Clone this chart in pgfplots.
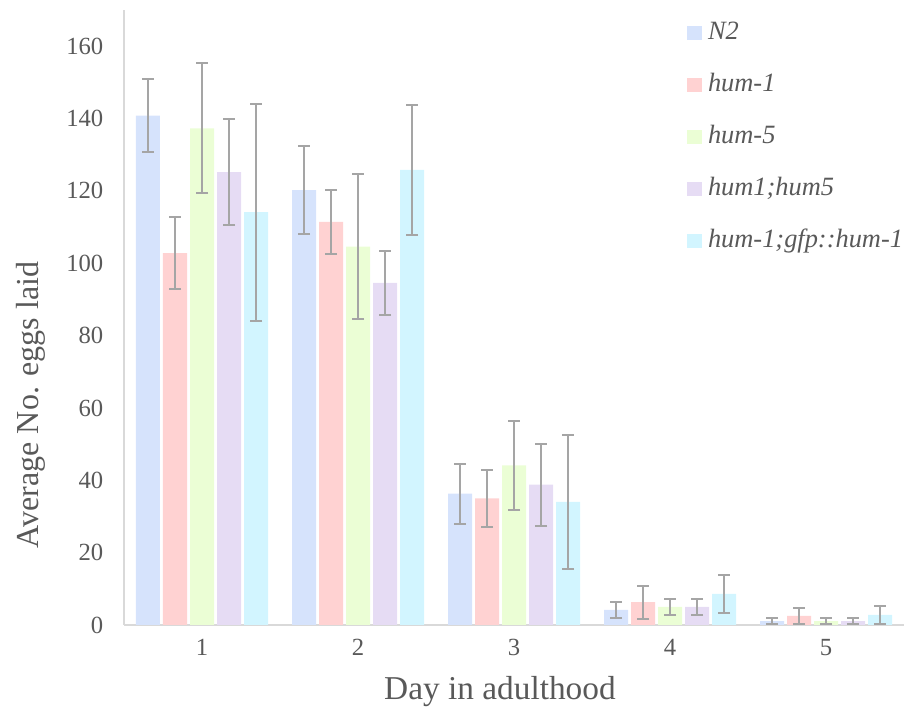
\documentclass[border=0pt]{standalone}
\usepackage{fontspec}
\setmainfont{Liberation Serif}
\usepackage{pgfplots}
\pgfplotsset{compat=1.18}
\usepackage{pgfplotstable}
\definecolor{cN}{RGB}{214,227,252}
\definecolor{cA}{RGB}{255,210,210}
\definecolor{cB}{RGB}{235,254,213}
\definecolor{cC}{RGB}{230,220,244}
\definecolor{cD}{RGB}{210,245,255}
\definecolor{txt}{RGB}{89,89,89}
\definecolor{errc}{RGB}{165,165,165}
\definecolor{axc}{RGB}{217,217,217}

\pgfplotstableread{
x y e
1 140.8 10.0
2 120.2 12.2
3 36.3 8.3
4 4.2 2.2
5 1.1 0.8
}\tN
\pgfplotstableread{
x y e
1 102.8 10.0
2 111.4 8.8
3 35.0 7.8
4 6.3 4.6
5 2.5 2.2
}\tA
\pgfplotstableread{
x y e
1 137.3 18.0
2 104.6 20.0
3 44.1 12.4
4 5.0 2.3
5 1.1 0.8
}\tB
\pgfplotstableread{
x y e
1 125.2 14.7
2 94.6 8.8
3 38.8 11.3
4 5.0 2.3
5 1.1 0.8
}\tC
\pgfplotstableread{
x y e
1 114.1 30.0
2 125.8 18.0
3 34.0 18.5
4 8.6 5.2
5 2.8 2.5
}\tD

\begin{document}
\begin{tikzpicture}
\begin{axis}[
  scale only axis, width=585pt, height=461.25pt,
  xmin=0.5, xmax=5.5, ymin=0, ymax=170,
  axis x line=bottom, axis y line=left,
  axis line style={draw=axc, line width=0.9pt, -},
  xtick={1,2,3,4,5}, ytick={0,20,...,160},
  major tick length=0pt,
  tick label style={font=\fontsize{18.5}{20}\selectfont, text=txt},
  /pgf/number format/assume math mode=true,
  yticklabel style={xshift=-12pt},
  xticklabel style={yshift=-7pt},
  ybar=2.25pt, bar width=18pt,
  xlabel={Day in adulthood}, ylabel={Average No. eggs laid},
  label style={font=\fontsize{24}{28}\selectfont, text=txt},
  xlabel style={at={(axis description cs:0.482,-0.1205)}, anchor=base, font=\fontsize{25}{28}\selectfont},
  ylabel style={at={(axis description cs:-0.109,0.358)}, anchor=base, rotate=0},
  legend style={at={(axis description cs:0.7218,0.981)}, anchor=north west,
    draw=none, fill=none, inner sep=0pt, outer sep=0pt, row sep=22pt,
    font=\fontsize{19.8}{22}\selectfont\itshape, text=txt,
    nodes={inner sep=0pt, text height=13pt, text depth=4pt},
    /tikz/every odd column/.style={column sep=4.5pt}},
  legend cell align=left,
  legend image code/.code={\fill[#1,draw=none] (0pt,-5.6pt) rectangle (11.25pt,5.6pt);},
  every axis plot/.append style={draw=none,
    error bars/y dir=both, error bars/y explicit,
    error bars/error mark=|,
    error bars/error bar style={draw=errc, line width=1.5pt},
    error bars/error mark options={draw=errc, line width=1.5pt, mark size=4.5pt}},
]
\addplot[fill=cN] table[x=x,y=y,y error=e]{\tN};
\addplot[fill=cA] table[x=x,y=y,y error=e]{\tA};
\addplot[fill=cB] table[x=x,y=y,y error=e]{\tB};
\addplot[fill=cC] table[x=x,y=y,y error=e]{\tC};
\addplot[fill=cD] table[x=x,y=y,y error=e]{\tD};
\legend{N2,hum-1,hum-5,hum1;hum5,hum-1;gfp::hum-1}
\end{axis}
\pgfresetboundingbox
\useasboundingbox ([shift={(-93pt,-62.25pt)}]current axis.south west) rectangle ([shift={(3pt,7.5pt)}]current axis.north east);
\end{tikzpicture}
\end{document}
